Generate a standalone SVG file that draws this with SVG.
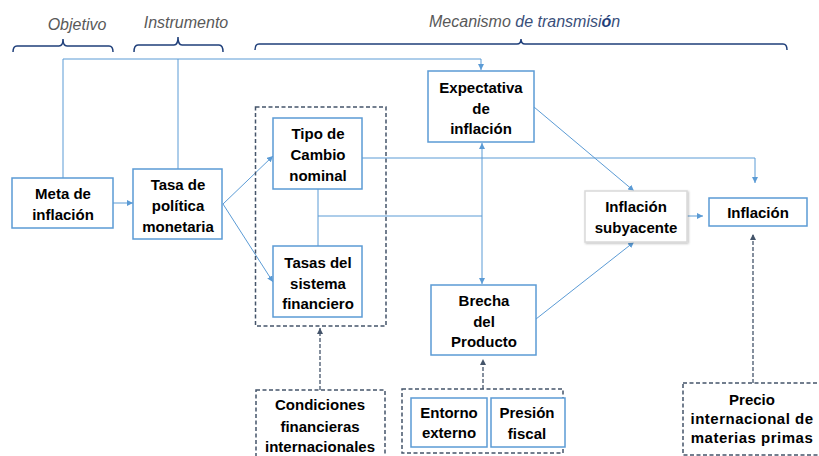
<svg xmlns="http://www.w3.org/2000/svg" width="819" height="456" viewBox="0 0 819 456">
<defs>
<style>
.box{fill:#fff;stroke:#5B9BD5;stroke-width:1.5}
.dbox{fill:none;stroke:#44546A;stroke-width:1.5;stroke-dasharray:4 2.5}
.t{font-family:"Liberation Sans",Arial,sans-serif;font-weight:bold;font-size:15px;fill:#000;text-anchor:middle}
.h{font-family:"Liberation Sans",Arial,sans-serif;font-style:italic;font-size:16px;fill:#595959}
.ln{fill:none;stroke:#5B9BD5;stroke-width:1}
.dl{fill:none;stroke:#44546A;stroke-width:1.3;stroke-dasharray:4 2}
.br{fill:none;stroke:#1F3F7A;stroke-width:1.5}
</style>
<marker id="a" viewBox="0 0 10 10" refX="10" refY="5" markerWidth="6" markerHeight="6" markerUnits="userSpaceOnUse" orient="auto"><path d="M0,0L10,5L0,10z" fill="#5B9BD5"/></marker>
<marker id="as" viewBox="0 0 10 10" refX="10" refY="5" markerWidth="6" markerHeight="6" markerUnits="userSpaceOnUse" orient="auto-start-reverse"><path d="M0,0L10,5L0,10z" fill="#5B9BD5"/></marker>
<marker id="d" viewBox="0 0 10 10" refX="10" refY="5" markerWidth="6" markerHeight="6" markerUnits="userSpaceOnUse" orient="auto"><path d="M0,0L10,5L0,10z" fill="#44546A"/></marker>
<filter id="sh" x="-10%" y="-10%" width="125%" height="130%"><feDropShadow dx="1" dy="1" stdDeviation="1" flood-color="#000" flood-opacity="0.25"/></filter>
</defs>

<g id="headers">
<text class="h" x="77" y="30" text-anchor="middle">Objetivo</text>
<text class="h" x="186" y="28" text-anchor="middle">Instrumento</text>
<text class="h" x="429" y="27" font-size="16.5"><tspan fill="#595959">Mecanismo </tspan><tspan fill="#3A4F7A">de transmisi</tspan><tspan fill="#1F3F7A" font-weight="bold">ó</tspan><tspan fill="#3A4F7A">n</tspan></text>
<path class="br" d="M13,52 Q13,46 17,46 H59 Q63,46 63,39 Q63,46 67,46 H109 Q113,46 113,52"/>
<path class="br" d="M134,52 Q134,45 138,45 H174 Q178,45 178,37 Q178,45 182,45 H219 Q223,45 223,52"/>
<path class="br" d="M255,50 Q255,44 259,44 H517 Q521,44 521,39 Q521,44 525,44 H783 Q787,44 787,50"/>
</g>

<g id="connectors">
<path class="ln" d="M63,178 V59 H481 V70" marker-end="url(#a)"/>
<path class="ln" d="M178,169 V59"/>
<path class="ln" d="M113,203 H133" marker-end="url(#a)"/>
<path class="ln" d="M223,204 L273,156" marker-end="url(#a)"/>
<path class="ln" d="M223,204 L273,282" marker-end="url(#a)"/>
<path class="ln" d="M362,158 H755 V183" marker-end="url(#a)"/>
<path class="ln" d="M318,189 V246"/>
<path class="ln" d="M318,216 H482"/>
<path class="ln" d="M482,143 V284" marker-start="url(#as)" marker-end="url(#as)"/>
<path class="ln" d="M534,107 L634,191" marker-end="url(#a)"/>
<path class="ln" d="M536,319 L634,242" marker-end="url(#a)"/>
<path class="ln" d="M687,216 H703" marker-end="url(#a)"/>
<path class="dl" d="M320,390 V328" marker-end="url(#d)"/>
<path class="dl" d="M483,389 V359" marker-end="url(#d)"/>
<path class="dl" d="M753,383 V234" marker-end="url(#d)"/>
</g>

<g id="meta">
<rect class="box" x="12" y="178" width="101" height="50"/>
<text class="t" x="63" y="199">Meta de</text>
<text class="t" x="63" y="220">inflación</text>
</g>

<g id="tasa">
<rect class="box" x="133" y="169" width="89" height="70"/>
<text class="t" x="178" y="190">Tasa de</text>
<text class="t" x="178" y="211">política</text>
<text class="t" x="178" y="232">monetaria</text>
</g>

<g id="grupo-financiero">
<rect class="dbox" x="255.5" y="107" width="130.5" height="219"/>
</g>

<g id="tipo-cambio">
<rect class="box" x="273" y="118" width="89" height="71"/>
<text class="t" x="318" y="139">Tipo de</text>
<text class="t" x="318" y="160">Cambio</text>
<text class="t" x="318" y="181">nominal</text>
</g>

<g id="tasas-sistema">
<rect class="box" x="273" y="246" width="89" height="71"/>
<text class="t" x="318" y="268">Tasas del</text>
<text class="t" x="318" y="289">sistema</text>
<text class="t" x="318" y="309">financiero</text>
</g>

<g id="expectativa">
<rect class="box" x="428" y="71" width="106" height="71"/>
<text class="t" x="481" y="93">Expectativa</text>
<text class="t" x="481" y="114">de</text>
<text class="t" x="481" y="134">inflación</text>
</g>

<g id="subyacente">
<rect x="585" y="191" width="102" height="51" fill="#fff" stroke="#D9D9D9" stroke-width="1.5" filter="url(#sh)"/>
<text class="t" x="636" y="212">Inflación</text>
<text class="t" x="636" y="233">subyacente</text>
</g>

<g id="inflacion">
<rect class="box" x="709" y="198" width="98" height="28"/>
<text class="t" x="758" y="218">Inflación</text>
</g>

<g id="brecha">
<rect class="box" x="431" y="285" width="105" height="70"/>
<text class="t" x="484" y="306">Brecha</text>
<text class="t" x="484" y="327">del</text>
<text class="t" x="484" y="347">Producto</text>
</g>

<g id="condiciones">
<rect class="dbox" x="256" y="390" width="129" height="80"/>
<text class="t" x="320" y="410">Condiciones</text>
<text class="t" x="320" y="432">financieras</text>
<text class="t" x="320" y="452">internacionales</text>
</g>

<g id="grupo-oferta">
<rect class="dbox" x="402" y="389" width="161" height="64"/>
</g>

<g id="entorno">
<rect class="box" x="411" y="398" width="76" height="49"/>
<text class="t" x="449" y="418" font-size="14">Entorno</text>
<text class="t" x="449" y="438" font-size="14">externo</text>
</g>

<g id="presion">
<rect class="box" x="491" y="398" width="74" height="49"/>
<text class="t" x="527" y="418">Presión</text>
<text class="t" x="527" y="439">fiscal</text>
</g>

<g id="precio">
<rect class="dbox" x="683" y="383" width="145" height="72"/>
<text class="t" x="752" y="405" font-size="16">Precio</text>
<text class="t" x="752" y="424" font-size="16" letter-spacing="0.5">internacional de</text>
<text class="t" x="752" y="443" font-size="16" letter-spacing="0.5">materias primas</text>
</g>
</svg>
